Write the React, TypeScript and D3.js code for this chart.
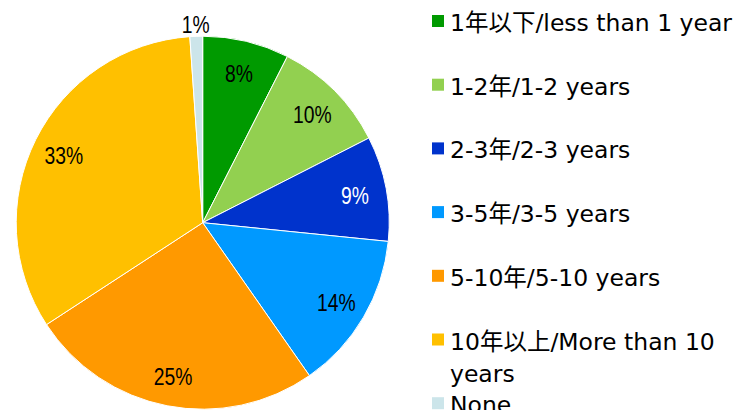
import React, { useEffect, useRef } from "react";
import * as d3 from "d3";

const categories = [
  "1年以下/less than 1 year",
  "1-2年/1-2 years",
  "2-3年/2-3 years",
  "3-5年/3-5 years",
  "5-10年/5-10 years",
  "10年以上/More than 10 years",
  "None",
];
const values = [7.5, 10.0, 9.1, 13.7, 25.5, 33.1, 1.1];
const percentLabels = ["8%", "10%", "9%", "14%", "25%", "33%", "1%"];
const colors = ["#009A00", "#92D050", "#0033CC", "#0099FF", "#FF9900", "#FFC000", "#CCE5EA"];
const labelColors = ["#000", "#000", "#fff", "#000", "#000", "#000", "#000"];

const W = 736;
const H = 410;
const CX = 202.7;
const CY = 222.7;
const R = 186.5;

export default function App() {
  const ref = useRef<SVGSVGElement>(null);

  useEffect(() => {
    const svg = d3.select(ref.current);
    svg.selectAll("*").remove();

    const pie = d3.pie<number>().sort(null).value((d) => d);
    const arcs = pie(values);
    const arc = d3.arc<d3.PieArcDatum<number>>().innerRadius(0).outerRadius(R);
    const labelArc = d3.arc<d3.PieArcDatum<number>>().innerRadius(155).outerRadius(155);
    const outerLabelArc = d3.arc<d3.PieArcDatum<number>>().innerRadius(200).outerRadius(200);

    const g = svg.append("g").attr("transform", `translate(${CX},${CY})`);
    g.selectAll("path")
      .data(arcs)
      .join("path")
      .attr("d", arc)
      .attr("fill", (_, i) => colors[i])
      .attr("stroke", "#fff")
      .attr("stroke-width", 1);

    g.selectAll("text.lbl")
      .data(arcs)
      .join("text")
      .attr("class", "lbl")
      .attr("transform", (d) => {
        const small = d.endAngle - d.startAngle < 0.1;
        const c = small ? outerLabelArc.centroid(d) : labelArc.centroid(d);
        return `translate(${c[0]},${c[1] + 2}) scale(0.84,1)`;
      })
      .attr("text-anchor", "middle")
      .attr("dominant-baseline", "central")
      .attr("font-family", "'Liberation Sans', Arial, sans-serif")
      .attr("font-size", 23)
      .attr("fill", (_, i) => labelColors[i])
      .text((_, i) => percentLabels[i]);

    // legend
    const legendX = 432;
    const textX = 450;
    const rowY = d3.scaleLinear().domain([0, 1]).range([31, 94.7]);
    const maxW = W - textX - 2;
    const leg = svg.append("g");
    categories.forEach((cat, i) => {
      const base = rowY(i);
      leg
        .append("rect")
        .attr("x", legendX)
        .attr("y", base - 16)
        .attr("width", 12)
        .attr("height", 12)
        .attr("fill", colors[i]);
      const t = leg
        .append("text")
        .attr("x", textX)
        .attr("y", base)
        .attr("font-family", "'DejaVu Sans', 'Noto Sans CJK JP', sans-serif")
        .attr("font-size", 23.5)
        .attr("fill", "#000");
      const words = cat.split(" ");
      let line: string[] = [];
      let lineNo = 0;
      let tspan = t.append("tspan").attr("x", textX).attr("y", base);
      words.forEach((w) => {
        line.push(w);
        tspan.text(line.join(" "));
        const len = (tspan.node() as SVGTSpanElement).getComputedTextLength();
        if (len > maxW && line.length > 1) {
          line.pop();
          tspan.text(line.join(" "));
          line = [w];
          lineNo++;
          tspan = t
            .append("tspan")
            .attr("x", textX)
            .attr("y", base + lineNo * 32)
            .text(w);
        }
      });
    });
  }, []);

  return (
    <svg
      ref={ref}
      width={W}
      height={H}
      style={{ position: "absolute", left: 0, top: 0, background: "#fff" }}
    />
  );
}
